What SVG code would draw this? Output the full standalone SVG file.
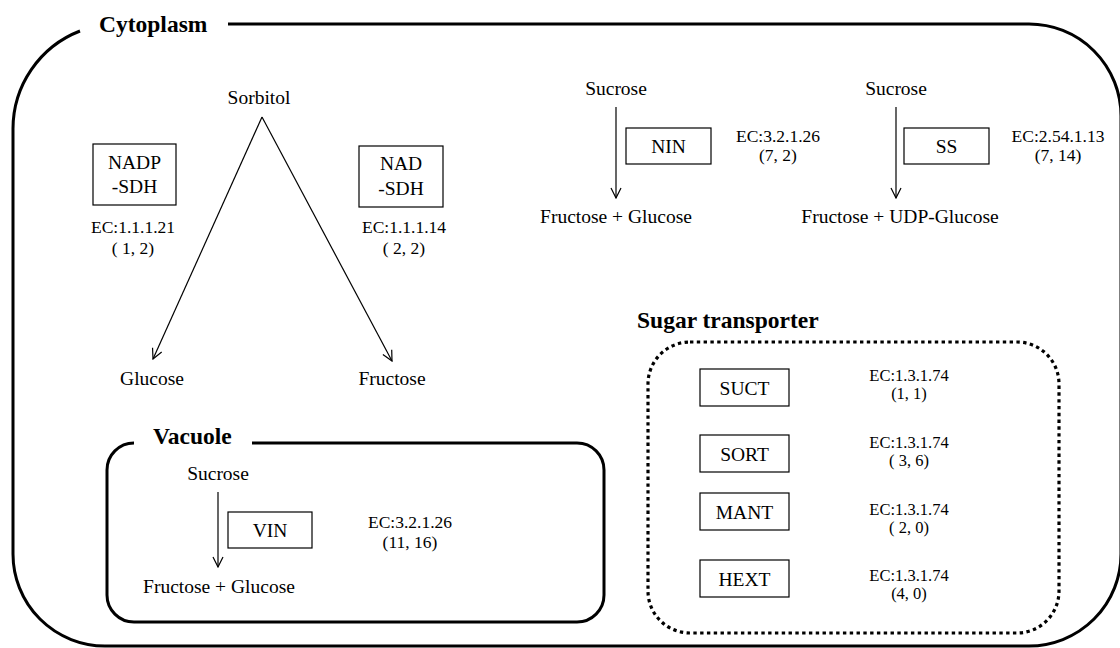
<svg xmlns="http://www.w3.org/2000/svg" width="1120" height="648" viewBox="0 0 1120 648">
<style>
text{font-family:"Liberation Serif","Tinos","DejaVu Serif","Times New Roman",serif;fill:#000;text-anchor:middle}
.t{font-size:19.5px}
.ec{font-size:17.5px}
.ec2{font-size:16.5px}
.title{font-size:23.5px;font-weight:bold;text-anchor:start}
.frame{fill:none;stroke:#000;stroke-width:3}
.dot{fill:none;stroke:#000;stroke-width:3.2;stroke-dasharray:3.4 3.4}
.box{fill:#fff;stroke:#000;stroke-width:1.2}
.arr{fill:none;stroke:#000;stroke-width:1.2;marker-end:url(#ah)}
</style>
<defs>
<marker id="ah" viewBox="0 0 12 12" refX="11" refY="6" markerWidth="12" markerHeight="12" markerUnits="userSpaceOnUse" orient="auto">
<path d="M1,1 L11,6 L1,11" fill="none" stroke="#000" stroke-width="1.2"/>
</marker>
</defs>
<rect width="1120" height="648" fill="#fff"/>

<g id="cytoplasm">
<path class="frame" d="M228,24 L1029,24 A92,92 0 0 1 1121,116 L1121,554 A92,92 0 0 1 1029,646 L105,646 A92,92 0 0 1 13,554 L13,129 A105,105 0 0 1 80,31"/>
<text class="title" x="99" y="32">Cytoplasm</text>
</g>

<g id="vacuole">
<path class="frame" d="M252,443 L577,443 A27,27 0 0 1 604,470 L604,595 A27,27 0 0 1 577,622 L134,622 A27,27 0 0 1 107,595 L107,470 A27,27 0 0 1 134,443"/>
<text class="title" x="153" y="444">Vacuole</text>
</g>

<g id="sugar-transporter">
<rect class="dot" x="648" y="342" width="411" height="291" rx="42" ry="42"/>
<text class="title" x="637" y="328">Sugar transporter</text>
</g>

<g id="connectors">
<path class="arr" d="M262,117 L153,359"/>
<path class="arr" d="M262,117 L392,361"/>
<path class="arr" d="M616,107 L616,198"/>
<path class="arr" d="M896,107 L896,198"/>
<path class="arr" d="M218,492 L218,567"/>
</g>

<g id="sorbitol"><text class="t" x="259" y="104">Sorbitol</text></g>
<g id="glucose"><text class="t" x="152" y="385">Glucose</text></g>
<g id="fructose"><text class="t" x="392" y="385">Fructose</text></g>

<g id="nadp-sdh">
<rect class="box" x="93" y="144" width="83" height="61"/>
<text class="t" x="134.5" y="169">NADP</text>
<text class="t" x="134.5" y="193">-SDH</text>
<text class="ec" x="133" y="233">EC:1.1.1.21</text>
<text class="ec" x="133" y="254">( 1, 2)</text>
</g>

<g id="nad-sdh">
<rect class="box" x="359" y="146" width="84" height="61"/>
<text class="t" x="401" y="170">NAD</text>
<text class="t" x="401" y="195">-SDH</text>
<text class="ec" x="404" y="233">EC:1.1.1.14</text>
<text class="ec" x="404" y="254">( 2, 2)</text>
</g>

<g id="nin">
<text class="t" x="616" y="95">Sucrose</text>
<rect class="box" x="626" y="128" width="85" height="36"/>
<text class="t" x="668.5" y="153">NIN</text>
<text class="ec" x="778" y="142">EC:3.2.1.26</text>
<text class="ec" x="778" y="161">(7, 2)</text>
<text class="t" x="616" y="223">Fructose + Glucose</text>
</g>

<g id="ss">
<text class="t" x="896" y="95">Sucrose</text>
<rect class="box" x="904" y="128" width="85" height="36"/>
<text class="t" x="946.5" y="153">SS</text>
<text class="ec" x="1058" y="142">EC:2.54.1.13</text>
<text class="ec" x="1058" y="161">(7, 14)</text>
<text class="t" x="900" y="223">Fructose + UDP-Glucose</text>
</g>

<g id="vin">
<text class="t" x="218" y="480">Sucrose</text>
<rect class="box" x="228" y="512" width="84" height="36"/>
<text class="t" x="270" y="537">VIN</text>
<text class="ec" x="410" y="528">EC:3.2.1.26</text>
<text class="ec" x="410" y="548">(11, 16)</text>
<text class="t" x="219" y="593">Fructose + Glucose</text>
</g>

<g id="suct">
<rect class="box" x="700" y="369" width="89" height="37"/>
<text class="t" x="744.5" y="395">SUCT</text>
<text class="ec2" x="909" y="381">EC:1.3.1.74</text>
<text class="ec2" x="909" y="399">(1, 1)</text>
</g>
<g id="sort">
<rect class="box" x="700" y="435" width="89" height="37"/>
<text class="t" x="744.5" y="461">SORT</text>
<text class="ec2" x="909" y="448">EC:1.3.1.74</text>
<text class="ec2" x="909" y="466">( 3, 6)</text>
</g>
<g id="mant">
<rect class="box" x="700" y="493" width="89" height="37"/>
<text class="t" x="744.5" y="519">MANT</text>
<text class="ec2" x="909" y="515">EC:1.3.1.74</text>
<text class="ec2" x="909" y="533">( 2, 0)</text>
</g>
<g id="hext">
<rect class="box" x="700" y="560" width="89" height="37"/>
<text class="t" x="744.5" y="586">HEXT</text>
<text class="ec2" x="909" y="581">EC:1.3.1.74</text>
<text class="ec2" x="909" y="599">(4, 0)</text>
</g>
</svg>
